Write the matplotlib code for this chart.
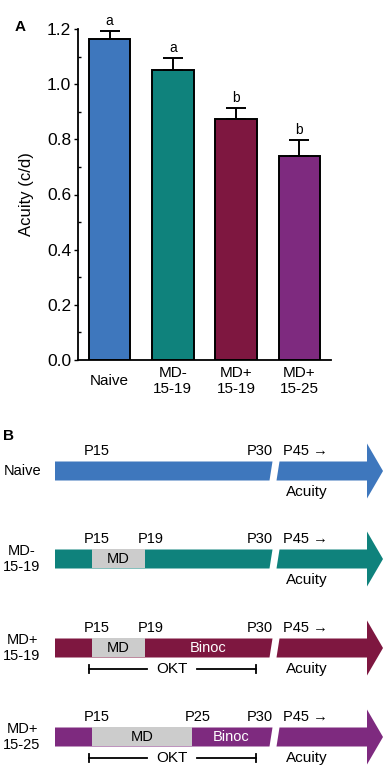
import matplotlib.pyplot as plt
from matplotlib.patches import Polygon, Rectangle
from matplotlib.ticker import MultipleLocator

plt.rcParams['font.family'] = ['Liberation Sans', 'DejaVu Sans']

# ── data ─────────────────────────────────────────────
groups = ["Naive", "MD-\n15-19", "MD+\n15-19", "MD+\n15-25"]
acuity = [1.164, 1.053, 0.874, 0.740]
sem = [0.029, 0.041, 0.039, 0.057]
letters = ["a", "a", "b", "b"]
colors = ["#3E77BD", "#0F827C", "#7E1740", "#7E2A7F"]

# timeline rows (panel B)
md_end_age = [None, 19, 19, 25]       # MD from P15 until this age
has_binoc = [False, False, True, True]
has_okt = [False, False, True, True]

# schematic positions of ages along the timeline (pixel-like units)
age_x = {15: 92, 19: 145, 25: 192, 30: 271}
row_y = [471, 559, 648, 737]

fig = plt.figure(figsize=(3.84, 7.71), dpi=100)

# ── A: bar chart ─────────────────────────────────────
ax = fig.add_axes([78 / 384, 1 - 360 / 771, 253 / 384, 331 / 771])
x = range(len(groups))
ax.bar(x, acuity, width=0.66, color=colors, edgecolor="black", linewidth=1.4,
       yerr=[[0] * 4, sem], capsize=7.5,
       error_kw=dict(elinewidth=1.4, capthick=1.4, ecolor="black"), zorder=2)
for i in x:
    ax.text(i, acuity[i] + sem[i] + 0.012, letters[i], ha="center", va="bottom", fontsize=10)
ax.set_xlim(-0.5, 3.5)
ax.set_ylim(0, 1.2)
ax.yaxis.set_major_locator(MultipleLocator(0.2))
ax.yaxis.set_minor_locator(MultipleLocator(0.1))
ax.set_yticklabels([f"{v:.1f}" for v in ax.get_yticks()])
ax.tick_params(axis="y", which="major", direction="out", length=3, width=1, labelsize=12.5, pad=2)
ax.tick_params(axis="y", which="minor", direction="in", length=2.5, width=1)
ax.set_xticks(list(x))
ax.set_xticklabels(groups, fontsize=11, linespacing=1.2)
ax.tick_params(axis="x", length=0, pad=15)
for lab in ax.get_xticklabels():
    lab.set_verticalalignment("center")
for s in ["top", "right"]:
    ax.spines[s].set_visible(False)
for s in ["left", "bottom"]:
    ax.spines[s].set_linewidth(1.3)
ax.set_ylabel("Acuity (c/d)", fontsize=12, labelpad=9)
fig.text(20 / 384, 1 - 27 / 771, "A", fontsize=11, fontweight="bold", ha="center", va="center")

# ── B: timeline schematic ────────────────────────────
ax2 = fig.add_axes([0, 0, 1, 1 - 418 / 771])
ax2.set_xlim(0, 384)
ax2.set_ylim(771, 418)
ax2.axis("off")
fig.text(8 / 384, 1 - 436 / 771, "B", fontsize=11, fontweight="bold", ha="center", va="center")

x0, gap_l, gap_r, head_x, tip_x = 55, age_x[30], 278, 367, 383
bh, hh = 9.5, 27.5
for r, y in enumerate(row_y):
    c = colors[r]
    # body up to P30 (slanted cut)
    ax2.add_patch(Polygon([(x0, y - bh), (gap_l + 1.5, y - bh), (gap_l - 1.5, y + bh), (x0, y + bh)],
                          closed=True, facecolor=c, edgecolor="none"))
    # arrow after P30
    ax2.add_patch(Polygon([(gap_r + 1.5, y - bh), (head_x, y - bh), (head_x, y - hh), (tip_x, y),
                           (head_x, y + hh), (head_x, y + bh), (gap_r - 1.5, y + bh)],
                          closed=True, facecolor=c, edgecolor="none"))
    ax2.text(22 if r else 4, y, groups[r], ha="center" if r else "left", va="center",
             fontsize=10.5, linespacing=1.2)
    ty = y - 20
    ax2.text(age_x[15] + 5, ty, "P15", ha="center", va="center", fontsize=10.5)
    ax2.text(gap_l + 2, ty, "P30", ha="right", va="center", fontsize=10.5)
    ax2.text(283, ty, "P45 \u2192", ha="left", va="center", fontsize=10.5)
    if md_end_age[r] is not None:
        xe = age_x[md_end_age[r]]
        ax2.add_patch(Rectangle((age_x[15], y - bh), xe - age_x[15], 2 * bh,
                                facecolor="#CCCCCC", edgecolor="none"))
        ax2.text((age_x[15] + xe) / 2, y, "MD", ha="center", va="center", fontsize=10.5)
        ax2.text(xe + 6, ty, f"P{md_end_age[r]}", ha="center", va="center", fontsize=10.5)
        if has_binoc[r]:
            ax2.text((xe + gap_l) / 2, y, "Binoc", ha="center", va="center",
                     fontsize=10.5, color="white")
    ax2.text(307, y + 21, "Acuity", ha="center", va="center", fontsize=11)
    if has_okt[r]:
        oy = y + 21
        ax2.plot([89, 147], [oy, oy], color="black", lw=1.3)
        ax2.plot([197, 256], [oy, oy], color="black", lw=1.3)
        ax2.plot([89, 89], [oy - 4, oy + 4], color="black", lw=1.3)
        ax2.plot([256, 256], [oy - 4, oy + 4], color="black", lw=1.3)
        ax2.text(172, oy, "OKT", ha="center", va="center", fontsize=11)

fig.savefig("out.png", dpi=100)
